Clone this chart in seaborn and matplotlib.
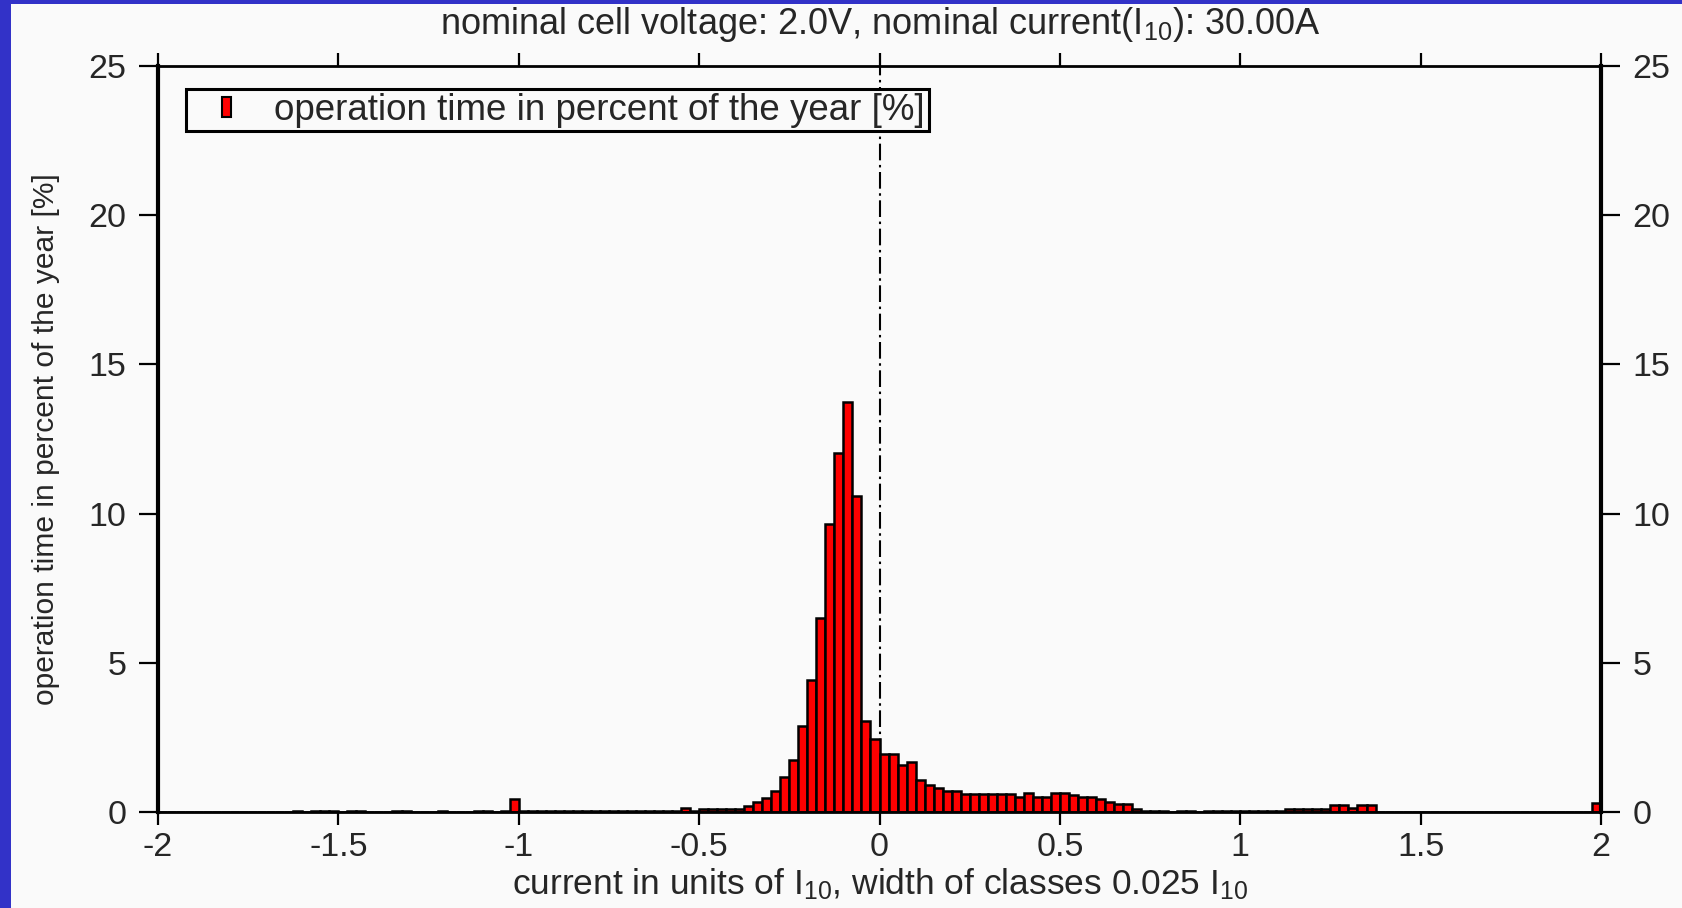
import numpy as np
import pandas as pd
import matplotlib
matplotlib.use("Agg")
import matplotlib.pyplot as plt
import seaborn as sns
from matplotlib.patches import Rectangle
from matplotlib.legend_handler import HandlerPatch

# ---------------- data ----------------
class_width = 0.025
class_left = np.round(np.arange(-2.0, 2.0, class_width), 3)  # 160 classes, left edges

# operation time in percent of the year, per class
operation_time = [
    0, 0, 0, 0, 0, 0, 0, 0, 0, 0,                                  # -2.000 .. -1.775
    0, 0, 0, 0, 0, 0.05, 0, 0.05, 0.05, 0.05,                      # -1.750 .. -1.525
    0, 0.05, 0.05, 0, 0, 0, 0.05, 0.05, 0, 0,                      # -1.500 .. -1.275
    0, 0.05, 0, 0, 0, 0.05, 0.05, 0, 0.05, 0.45,                   # -1.250 .. -1.025
    0.03, 0.03, 0.03, 0.03, 0.03, 0.03, 0.03, 0.03, 0.03, 0.03,    # -1.000 .. -0.775
    0.03, 0.03, 0.03, 0.03, 0.03, 0.03, 0.03, 0.03, 0.12, 0.03,    # -0.750 .. -0.525
    0.1, 0.1, 0.1, 0.1, 0.1, 0.2, 0.32, 0.46, 0.7, 1.17,           # -0.500 .. -0.275
    1.73, 2.88, 4.41, 6.5, 9.64, 12.03, 13.74, 10.59, 3.04, 2.46,  # -0.250 .. -0.025
    1.96, 1.96, 1.58, 1.67, 1.08, 0.92, 0.81, 0.70, 0.70, 0.6,     #  0.000 ..  0.225
    0.6, 0.6, 0.6, 0.6, 0.6, 0.5, 0.64, 0.5, 0.5, 0.64,            #  0.250 ..  0.475
    0.62, 0.58, 0.5, 0.5, 0.43, 0.34, 0.26, 0.26, 0.11, 0.05,      #  0.500 ..  0.725
    0.05, 0.05, 0, 0.05, 0.05, 0, 0.04, 0.04, 0.04, 0.04,          #  0.750 ..  0.975
    0.04, 0.04, 0.04, 0.04, 0.04, 0.1, 0.1, 0.1, 0.1, 0.1,         #  1.000 ..  1.225
    0.22, 0.22, 0.13, 0.22, 0.22, 0, 0, 0, 0, 0,                   #  1.250 ..  1.475
    0, 0, 0, 0, 0, 0, 0, 0, 0, 0,                                  #  1.500 ..  1.725
    0, 0, 0, 0, 0, 0, 0, 0, 0, 0.3,                                #  1.750 ..  1.975
]

x_ticks = [-2, -1.5, -1, -0.5, 0, 0.5, 1, 1.5, 2]
x_tick_labels = ["-2", "-1.5", "-1", "-0.5", "0", "0.5", "1", "1.5", "2"]
y_ticks = [0, 5, 10, 15, 20, 25]
y_tick_labels = ["0", "5", "10", "15", "20", "25"]

title_text = r"nominal cell voltage: 2.0V, nominal current(I$_{\mathregular{10}}$): 30.00A"
x_label = r"current in units of I$_{\mathregular{10}}$, width of classes 0.025 I$_{\mathregular{10}}$"
y_label = "operation time in percent of the year [%]"
legend_label = "operation time in percent of the year [%]"

# ---------------- style ----------------
sns.set_style("ticks")
plt.rcParams["font.family"] = ["Liberation Sans", "DejaVu Sans"]
plt.rcParams["mathtext.fontset"] = "custom"
plt.rcParams["mathtext.rm"] = "Liberation Sans"
plt.rcParams["mathtext.it"] = "Liberation Sans"
plt.rcParams["axes.unicode_minus"] = False

BG = "#fafafa"
TXT = "#262626"
W, H = 1682, 908

fig = plt.figure(figsize=(W / 100, H / 100), dpi=100, facecolor=BG)
ax = fig.add_axes([158 / W, 1 - 812 / H, (1601 - 158) / W, (812 - 66) / H])
ax.set_facecolor(BG)

df = pd.DataFrame({"current": class_left + class_width / 2, "time": operation_time})
sns.histplot(data=df, x="current", weights="time", binwidth=class_width, binrange=(-2.0, 2.0),
             ax=ax, color="#ff0000", alpha=1, edgecolor="black", linewidth=1.8,
             legend=False, zorder=2)

ax.axvline(0, color="black", lw=1.5, linestyle=(0, (8, 2.2, 1.2, 2.2)), zorder=1)

ax.set_xlim(-2, 2)
ax.set_ylim(0, 25)
ax.set_xticks(x_ticks)
ax.set_xticklabels(x_tick_labels)
ax.set_yticks(y_ticks)
ax.set_yticklabels(y_tick_labels)
ax.set_xlabel("")
ax.set_ylabel("")

for s in ["left", "right"]:
    ax.spines[s].set_visible(True)
    ax.spines[s].set_linewidth(3)
    ax.spines[s].set_color("black")
for s in ["top", "bottom"]:
    ax.spines[s].set_visible(True)
    ax.spines[s].set_linewidth(2)
    ax.spines[s].set_color("black")

ax.tick_params(axis="x", direction="out", length=9.4, width=1.6, top=True, bottom=True,
               labeltop=False, pad=5, labelsize=24.5, labelcolor=TXT, color="black")
ax.tick_params(axis="y", direction="out", length=13.7, width=1.6, left=True, right=True,
               labelright=True, pad=9, labelsize=24.5, labelcolor=TXT, color="black")

# title / labels
fig.text(880 / W, 1 - 34 / H, title_text, ha="center", va="baseline", fontsize=26, color=TXT)
fig.text(880 / W, 1 - 894 / H, x_label, ha="center", va="baseline", fontsize=25.5, color=TXT)
fig.text(46 / W, 1 - 439 / H, y_label, rotation=90, ha="center", va="center",
         fontsize=21.6, color=TXT)

# legend with narrow handle
handle = Rectangle((0, 0), 1, 1, facecolor="#ff0000", edgecolor="black", linewidth=1.5)


def narrow_patch(legend, orig_handle, xdescent, ydescent, width, height, fontsize):
    w, h = 6.0, 14.0
    return Rectangle((-xdescent + (width - w) / 2, -ydescent + (height - h) / 2), w, h)


leg = ax.legend([handle], [legend_label], loc="upper left",
                bbox_to_anchor=((186 - 158) / (1601 - 158), (812 - 89) / (812 - 66)),
                borderaxespad=0, handler_map={Rectangle: HandlerPatch(patch_func=narrow_patch)},
                fancybox=False, framealpha=1, edgecolor="black", facecolor=BG,
                fontsize=26.5, handlelength=2.0, handleheight=0.7, handletextpad=0.3,
                borderpad=0.1)
leg.get_frame().set_linewidth(2.2)
for t in leg.get_texts():
    t.set_color(TXT)

# blue frame strips of the original slide
fig.add_artist(Rectangle((0, 0), 11 / W, 1, transform=fig.transFigure,
                         facecolor="#3232c8", edgecolor="none", zorder=10))
fig.add_artist(Rectangle((0, 1 - 4 / H), 1, 4 / H, transform=fig.transFigure,
                         facecolor="#3232c8", edgecolor="none", zorder=10))

fig.savefig("out.png", dpi=100, facecolor=BG)
